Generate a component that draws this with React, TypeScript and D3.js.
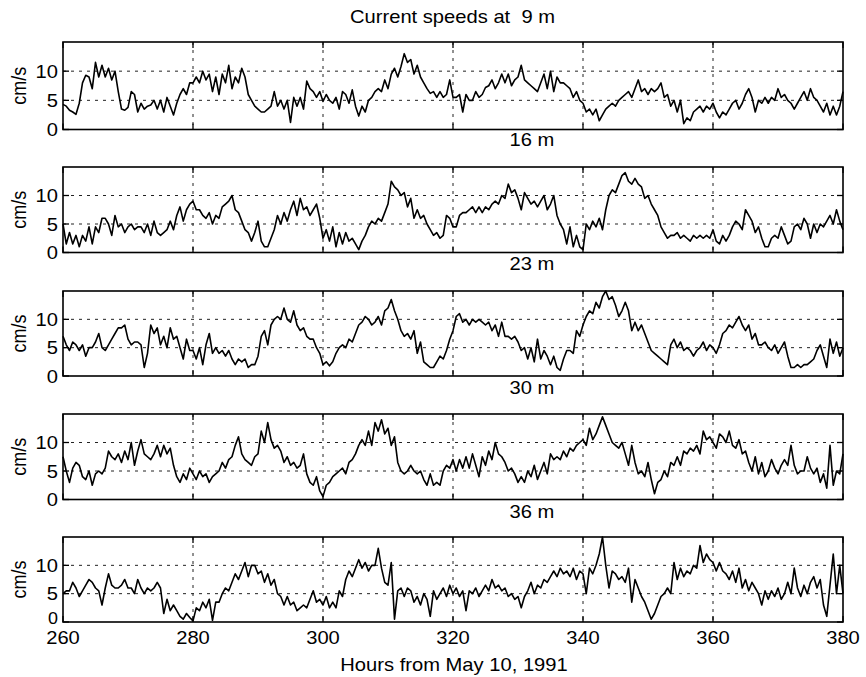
import React from "react";
import * as d3 from "d3";

// ---- data (cm/s), sampled every half hour from 260 h to 380 h ----
const startHour = 260;
const stepHours = 0.5;

const speed9m = [
  4.3,4.0,3.3,3.0,2.6,4.5,8.0,9.3,9.0,7.0,
  11.5,9.0,11.0,9.0,10.5,8.5,10.0,6.5,3.5,3.3,
  3.8,6.5,6.0,3.0,4.5,3.5,4.0,4.2,5.0,3.5,
  5.0,3.0,5.5,4.0,2.5,4.5,6.0,7.0,6.0,8.0,
  8.0,9.0,8.0,10.0,8.5,9.5,6.5,9.0,6.0,9.5,
  8.0,11.0,7.0,9.0,8.0,10.5,9.0,6.0,5.0,4.0,
  3.5,3.0,3.0,3.5,4.0,6.5,4.0,5.0,3.5,5.0,
  1.2,5.5,4.0,5.5,3.5,8.3,7.0,6.5,5.5,6.5,
  4.8,6.0,5.0,4.5,5.5,3.5,6.5,6.0,4.5,6.8,
  4.0,2.3,4.0,3.0,5.0,5.5,6.5,7.0,6.5,8.5,
  7.0,9.5,10.5,9.0,10.8,13.0,11.5,12.0,9.5,11.0,
  9.0,8.0,7.0,6.2,6.5,5.5,6.5,5.5,6.0,8.5,
  5.5,
  5.5,6.0,3.0,6.0,5.0,5.0,6.5,5.5,6.0,
  7.2,7.5,8.5,7.0,8.0,9.5,8.0,9.5,7.5,8.5,
  9.0,11.0,8.5,8.0,7.5,7.0,6.5,8.0,9.5,7.0,
  10.0,6.5,9.0,8.0,8.0,7.5,7.0,5.5,6.5,5.0,
  4.5,3.0,3.5,2.5,3.5,1.5,2.5,3.5,4.0,4.5,
  4.0,5.0,5.5,6.0,6.5,5.5,7.0,8.5,6.5,7.0,
  6.0,7.0,6.5,7.0,8.0,5.5,6.0,4.0,5.0,3.0,
  5.0,1.0,2.0,1.5,3.0,3.5,4.0,3.0,4.0,3.5,
  4.5,3.0,2.0,3.0,2.5,3.5,4.5,5.0,3.5,4.5,
  6.0,7.0,5.5,3.0,5.0,4.5,5.5,4.5,5.5,5.0,
  7.0,5.5,6.0,5.0,4.5,3.5,4.5,5.5,6.5,5.0,
  7.0,5.5,5.0,4.0,3.0,4.5,2.5,4.0,2.5,4.0,
  6.5,
];

const speed16m = [
  5.0,1.5,3.5,1.5,3.0,1.0,3.0,2.0,4.5,1.5,
  4.5,3.5,6.0,6.0,5.0,3.0,6.5,4.5,5.0,3.5,
  4.5,5.0,4.0,4.5,4.5,3.5,5.0,3.0,5.5,3.5,
  3.0,3.5,4.0,5.5,4.0,6.5,8.0,5.5,7.5,8.5,
  9.0,7.5,7.5,6.5,6.0,7.0,5.0,6.5,6.0,8.0,
  8.5,9.0,10.0,7.5,7.0,5.5,4.0,3.5,2.0,3.5,
  5.5,2.0,1.0,1.0,2.5,4.0,6.5,5.0,7.0,5.5,
  7.5,9.0,6.5,9.5,7.5,8.0,6.5,7.5,8.5,6.0,
  2.5,4.0,2.0,4.5,1.0,3.5,1.5,3.5,2.0,2.5,
  1.5,0.5,2.0,3.0,4.5,5.5,5.0,6.0,5.5,7.0,
  8.5,12.5,11.5,11.0,10.0,10.5,8.0,9.5,6.0,7.5,
  6.0,6.5,5.0,4.0,3.0,3.5,2.5,3.0,6.5,6.0,
  4.5,
  4.5,6.5,7.0,7.0,7.5,8.0,7.0,8.0,7.0,
  8.0,7.5,8.5,9.0,8.5,10.0,9.5,12.0,10.5,11.0,
  9.5,7.5,10.5,9.5,8.5,9.0,8.0,9.0,10.0,7.5,
  8.5,10.0,6.5,5.0,4.0,1.5,4.5,1.0,3.0,1.0,
  0.5,5.0,4.0,5.5,4.5,6.0,4.0,7.5,10.0,11.0,
  10.5,12.0,13.5,14.0,12.5,12.0,13.0,12.0,11.5,9.5,
  10.0,8.5,7.5,6.5,4.5,3.5,2.5,3.0,3.0,3.5,
  2.5,3.0,2.5,2.0,3.0,2.5,3.0,2.5,3.0,2.5,
  4.0,2.0,1.5,3.0,2.0,3.0,4.5,5.5,5.0,4.0,
  7.5,6.5,5.5,3.5,4.5,2.5,1.0,1.0,2.5,3.0,
  2.5,4.5,3.0,1.5,2.0,4.5,5.0,4.0,6.0,5.0,
  2.5,5.0,3.5,5.0,4.5,5.5,6.5,5.0,7.5,5.5,
  4.0,
];

const speed23m = [
  7.0,5.5,4.5,6.0,5.5,4.5,5.5,3.5,5.0,5.0,
  6.0,7.5,5.0,4.5,5.5,6.5,7.5,8.5,8.5,9.0,
  6.5,5.5,6.0,6.0,5.5,1.5,4.0,9.0,7.5,8.5,
  5.5,7.0,5.0,8.5,6.5,7.0,5.0,3.0,6.5,4.5,
  4.5,3.0,5.0,2.0,5.5,7.5,4.0,5.0,4.0,4.5,
  3.5,4.5,3.0,2.0,3.0,2.5,3.0,1.5,2.0,2.0,
  3.5,7.0,8.0,5.5,9.0,10.0,10.5,10.0,12.0,10.0,
  9.5,11.5,9.0,8.0,8.5,7.0,6.5,6.5,5.0,4.0,
  2.0,2.5,1.8,2.5,4.0,5.0,5.5,5.0,6.5,6.0,
  7.5,9.0,9.5,10.5,10.0,9.0,9.5,10.5,9.0,11.5,
  12.0,13.5,11.5,10.0,8.0,7.0,7.5,6.5,8.0,4.0,
  6.0,2.5,2.0,1.5,1.5,2.5,3.5,3.0,4.5,6.5,
  8.0,
  10.5,11.0,9.5,10.0,9.0,10.0,9.5,10.0,9.5,
  9.0,9.5,8.0,9.0,7.0,9.5,7.0,7.0,6.5,7.0,
  6.0,4.5,5.0,3.0,5.0,2.5,6.5,3.0,4.5,3.5,
  2.0,3.5,1.5,1.0,3.0,4.5,4.5,4.0,8.0,7.0,
  9.0,10.5,11.5,11.0,13.0,12.0,14.0,15.0,13.5,14.0,
  12.5,10.5,11.5,13.0,11.5,8.0,9.5,8.0,9.0,7.5,
  6.0,4.5,4.0,3.5,3.0,2.5,2.0,5.5,6.5,5.0,
  6.0,4.5,5.0,4.5,3.5,4.5,5.0,6.0,4.5,5.5,
  5.0,4.0,5.5,7.5,8.0,9.0,8.5,9.5,10.5,9.0,
  8.0,9.0,6.5,7.5,5.5,5.5,6.0,5.0,4.5,5.5,
  4.0,5.0,6.0,3.5,1.5,1.5,2.0,1.5,2.0,2.0,
  2.5,3.0,4.5,5.5,3.5,1.5,6.5,4.0,6.0,3.5,
  5.0,
];

const speed30m = [
  7.5,5.0,3.0,5.5,6.5,6.0,4.0,3.5,5.0,2.5,
  4.5,5.0,4.5,5.5,8.5,7.5,7.0,8.0,6.5,8.5,
  7.0,10.0,6.0,8.5,10.5,8.0,7.5,7.0,8.0,9.5,
  7.5,9.5,8.0,9.0,6.0,4.0,3.0,4.5,3.5,5.5,
  4.5,3.5,5.0,4.0,4.5,3.0,4.0,4.5,5.0,6.5,
  5.5,7.0,7.5,9.5,11.0,8.0,7.0,6.5,6.0,7.5,
  8.0,12.0,10.0,13.5,10.5,9.0,9.5,8.5,6.5,7.5,
  6.0,6.5,5.5,6.0,8.0,4.5,3.0,2.5,4.0,1.5,
  0.5,2.5,3.0,4.0,4.5,5.0,5.5,4.5,6.5,7.0,
  8.0,9.5,10.5,9.5,12.0,9.5,13.5,12.0,14.0,11.5,
  12.5,9.5,11.0,6.5,5.0,4.5,5.0,6.0,5.0,4.5,
  5.0,3.5,2.5,4.5,2.5,3.0,2.5,5.0,6.0,5.5,
  7.0,
  5.0,7.0,5.5,7.5,5.5,8.0,6.0,4.0,7.5,
  6.0,8.5,7.0,10.0,8.0,7.5,6.5,5.0,5.5,4.5,
  3.0,4.0,3.0,5.0,4.0,6.0,3.5,5.0,6.5,4.5,
  8.0,7.0,7.5,7.0,8.5,7.5,9.0,8.5,9.5,10.0,
  10.5,9.5,12.5,10.5,11.5,13.0,14.5,13.0,11.5,10.0,
  9.5,9.0,10.0,8.0,6.0,9.5,6.5,4.5,5.0,4.0,
  6.5,3.5,1.0,3.0,3.5,5.0,4.0,6.5,6.0,7.5,
  6.0,8.5,8.0,9.0,8.5,9.5,8.0,12.0,10.5,11.0,
  10.0,9.0,11.5,11.0,10.0,12.0,9.5,9.0,10.5,8.0,
  8.5,6.5,5.0,7.5,4.5,6.5,4.0,5.0,7.0,5.5,
  4.5,6.0,7.0,6.0,9.5,6.0,4.5,5.0,5.0,7.5,
  5.5,4.5,5.5,3.0,4.5,2.0,9.5,2.5,5.0,4.5,
  8.0,
];

const speed36m = [
  5.0,5.5,5.5,7.0,6.0,4.5,5.5,6.5,7.5,7.0,
  6.0,5.5,3.0,6.0,8.5,6.5,6.0,6.0,6.5,7.5,
  6.0,6.0,5.0,7.5,6.0,5.0,6.0,5.5,6.0,7.0,
  6.0,1.5,4.0,2.0,3.0,2.0,1.0,0.5,1.5,0.8,
  0.2,2.5,2.0,3.5,2.5,4.0,0.3,3.5,3.5,5.0,
  6.0,5.5,7.0,8.5,7.5,9.0,10.5,8.0,10.0,10.0,
  8.5,9.0,7.0,8.5,6.5,7.5,5.0,4.5,3.0,4.5,
  3.0,3.5,2.0,2.5,3.0,2.5,4.0,5.5,3.5,4.0,
  3.0,4.5,2.5,3.5,2.5,5.5,4.5,7.5,9.0,8.0,
  9.5,11.0,9.5,10.5,9.0,10.0,10.0,13.0,9.5,7.0,
  6.5,10.5,0.5,5.5,6.0,4.5,6.0,5.5,3.5,4.5,
  3.0,5.0,4.0,1.0,5.5,4.0,5.0,6.0,4.5,6.5,
  5.0,
  6.0,4.5,5.5,2.0,5.5,5.0,6.0,4.5,5.5,
  6.5,5.5,7.5,6.0,6.5,5.5,6.0,4.5,5.0,4.0,
  4.5,2.5,4.5,5.5,7.0,5.0,6.5,6.0,7.5,7.0,
  8.0,9.0,8.0,9.5,8.5,9.0,8.0,9.5,7.5,9.0,
  8.5,5.0,9.5,8.5,10.0,12.0,15.0,10.0,6.0,9.0,
  8.5,7.5,8.0,7.0,9.5,3.5,7.5,6.0,4.5,3.5,
  2.0,0.5,1.5,3.0,4.5,5.0,6.0,5.0,10.5,7.5,
  9.5,8.0,9.0,8.5,10.0,9.5,13.5,10.5,12.0,11.0,
  10.5,9.0,10.5,9.0,8.5,7.5,9.0,7.0,9.5,6.0,
  7.5,5.5,7.0,6.0,5.0,3.0,5.5,4.0,5.5,4.5,
  6.0,4.0,5.0,7.0,5.0,9.5,6.0,4.5,6.5,5.0,
  7.0,8.0,6.0,7.5,3.0,1.0,6.5,12.0,5.0,10.0,
  5.0,
];

const depthLabels = ["Current speeds at\u00a0\u00a09 m", "16 m", "23 m", "30 m", "36 m"];
const seriesList = [speed9m, speed16m, speed23m, speed30m, speed36m];
const xTicks = [260, 280, 300, 320, 340, 360, 380];
const xGrid = [280, 300, 320, 340, 360];
const yTicks = [0, 5, 10];
const yGrid = [5, 10];
const xDomain: [number, number] = [260, 380];
const yDomain: [number, number] = [0, 15];
const yLabel = "cm/s";
const xLabel = "Hours from May 10, 1991";

// ---- layout ----
const W = 866;
const H = 677;
const X0 = 63;
const X1 = 843;
const panels: [number, number][] = [
  [42, 129.5],
  [167, 252.5],
  [291, 376],
  [414, 499.5],
  [537, 622],
];
const labelBaselines = [22.5, 146, 270, 394, 518];
const FONT = "'Liberation Sans', Arial, Helvetica, sans-serif";
const FS = 18;
const SX = 1.12;
const TICK = 6;

function T({ x, y, anchor, children, rotate, size }: any) {
  const tr = `translate(${x},${y}) scale(${SX},1)` + (rotate ? ` rotate(${rotate})` : "");
  return (
    <text transform={tr} textAnchor={anchor} fontFamily={FONT} fontSize={size || FS} fill="#000">
      {children}
    </text>
  );
}

export default function App() {
  const x = d3.scaleLinear().domain(xDomain).range([X0, X1]);

  return (
    <svg width={W} height={H} style={{ position: "absolute", left: 0, top: 0, background: "#fff" }}>
      <rect x={0} y={0} width={W} height={H} fill="#fff" />
      {seriesList.map((series, p) => {
        const [top, bottom] = panels[p];
        const y = d3.scaleLinear().domain(yDomain).range([bottom, top]);
        const pts = series.map((v, i) => [startHour + i * stepHours, Math.min(v, yDomain[1])] as [number, number]);
        const line = d3
          .line<[number, number]>()
          .x((d) => x(d[0]))
          .y((d) => y(d[1]));
        const mid = (top + bottom) / 2;
        const lowZero = (t: number) => p === 4 && t === 0;
        return (
          <g key={p}>
            {yGrid.map((g) => (
              <line key={"yg" + g} x1={X0} x2={X1} y1={y(g)} y2={y(g)} stroke="#222" strokeWidth={1} strokeDasharray="3,5" />
            ))}
            {xGrid.map((g) => (
              <line key={"xg" + g} x1={x(g)} x2={x(g)} y1={top} y2={bottom} stroke="#222" strokeWidth={1} strokeDasharray="3,5" />
            ))}
            {xTicks.map((t) => (
              <g key={"xt" + t}>
                <line x1={x(t)} x2={x(t)} y1={top} y2={top + TICK} stroke="#000" strokeWidth={1.3} />
                <line x1={x(t)} x2={x(t)} y1={bottom} y2={bottom - TICK} stroke="#000" strokeWidth={1.3} />
              </g>
            ))}
            {yTicks.map((t) => (
              <g key={"yt" + t}>
                <line x1={X0} x2={X0 + TICK} y1={y(t)} y2={y(t)} stroke="#000" strokeWidth={1.3} />
                <line x1={X1} x2={X1 - TICK} y1={y(t)} y2={y(t)} stroke="#000" strokeWidth={1.3} />
                <T x={58} y={y(t) + (lowZero(t) ? 1.5 : 6.5)} anchor="end" size={lowZero(t) ? 16 : FS}>{t}</T>
              </g>
            ))}
            <path d={line(pts) || ""} fill="none" stroke="#000" strokeWidth={1.6} strokeLinejoin="round" />
            <rect x={X0} y={top} width={X1 - X0} height={bottom - top} fill="none" stroke="#000" strokeWidth={1.6} />
            <T x={26} y={mid} anchor="middle" rotate={-90}>{yLabel}</T>
            <T x={p === 0 ? 452.5 : 532} y={labelBaselines[p]} anchor="middle">{depthLabels[p]}</T>
          </g>
        );
      })}
      {xTicks.map((t) => (
        <T key={"xl" + t} x={x(t)} y={643.5} anchor="middle">{t}</T>
      ))}
      <T x={454} y={671} anchor="middle">{xLabel}</T>
    </svg>
  );
}
